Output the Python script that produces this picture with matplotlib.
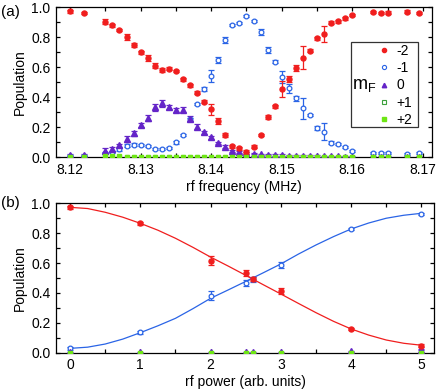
import matplotlib
matplotlib.use('Agg')
import matplotlib.pyplot as plt
import matplotlib.lines as mlines
from matplotlib.patches import Rectangle
from matplotlib.ticker import MultipleLocator

plt.rcParams['font.family'] = ['Liberation Sans', 'DejaVu Sans']
plt.rcParams['mathtext.fontset'] = 'custom'
plt.rcParams['mathtext.rm'] = 'Liberation Sans'

# ---- panel (a): population vs rf frequency ----
freq = [8.120, 8.122, 8.125, 8.126, 8.127, 8.128, 8.129, 8.130, 8.131, 8.132,
        8.133, 8.134, 8.135, 8.136, 8.137, 8.138, 8.139, 8.140, 8.141, 8.142,
        8.143, 8.144, 8.145, 8.146, 8.147, 8.148, 8.149, 8.150, 8.151, 8.152,
        8.153, 8.154, 8.155, 8.156, 8.157, 8.158, 8.159, 8.160,
        8.163, 8.164, 8.165, 8.1678, 8.1694]
pop_m2 = [0.975, 0.964, 0.904, 0.882, 0.847, 0.804, 0.749, 0.700, 0.660, 0.611,
          0.582, 0.591, 0.577, 0.522, 0.482, 0.431, 0.369, 0.320, 0.244, 0.149,
          0.075, 0.060, 0.035, 0.071, 0.147, 0.267, 0.342, 0.453, 0.525, 0.593,
          0.665, 0.711, 0.793, 0.822, 0.897, 0.907, 0.927, 0.947,
          0.967, 0.964, 0.964, 0.971, 0.964]
err_m2 = [0.010, 0.008, 0.015, 0.010, 0.008, 0.020, 0.015, 0.010, 0.020, 0.015,
          0.015, 0.010, 0.008, 0.010, 0.010, 0.012, 0.010, 0.037, 0.020, 0.015,
          0.010, 0.010, 0.012, 0.008, 0.008, 0.012, 0.010, 0.053, 0.020, 0.020,
          0.075, 0.008, 0.012, 0.053, 0.010, 0.010, 0.010, 0.008,
          0.008, 0.008, 0.010, 0.008, 0.008]
pop_m1 = [0.010, 0.012, 0.030, 0.037, 0.053, 0.077, 0.085, 0.080, 0.075, 0.053,
          0.055, 0.062, 0.100, 0.149, 0.253, 0.357, 0.457, 0.542, 0.649, 0.782,
          0.882, 0.897, 0.942, 0.909, 0.837, 0.715, 0.638, 0.533, 0.460, 0.393,
          0.327, 0.282, 0.197, 0.171, 0.097, 0.089, 0.071, 0.044,
          0.027, 0.027, 0.027, 0.022, 0.027]
err_m1 = [0.005, 0.005, 0.008, 0.008, 0.008, 0.010, 0.008, 0.006, 0.006, 0.006,
          0.006, 0.006, 0.012, 0.006, 0.010, 0.006, 0.015, 0.037, 0.020, 0.020,
          0.006, 0.006, 0.006, 0.006, 0.020, 0.020, 0.010, 0.040, 0.030, 0.015,
          0.070, 0.006, 0.012, 0.055, 0.010, 0.008, 0.006, 0.008,
          0.006, 0.006, 0.008, 0.006, 0.006]
pop_0 = [0.015, 0.015, 0.044, 0.055, 0.082, 0.122, 0.160, 0.215, 0.260, 0.333,
         0.360, 0.337, 0.315, 0.318, 0.258, 0.204, 0.167, 0.133, 0.097, 0.071,
         0.044, 0.035, 0.030, 0.025, 0.020, 0.018, 0.015, 0.015, 0.012, 0.010,
         0.010, 0.008, 0.008, 0.007, 0.006, 0.006, 0.005, 0.005,
         0.003, 0.003, 0.003, 0.003, 0.003]
err_0 = [0.008, 0.008, 0.015, 0.012, 0.010, 0.020, 0.015, 0.015, 0.020, 0.025,
         0.025, 0.012, 0.015, 0.015, 0.015, 0.015, 0.010, 0.010, 0.008, 0.008,
         0.008, 0.006, 0.006, 0.006, 0.005, 0.005, 0.005, 0.005, 0.005, 0.005,
         0.005, 0.005, 0.005, 0.005, 0.005, 0.005, 0.005, 0.005,
         0.005, 0.005, 0.005, 0.005, 0.005]
pop_p1 = [0.003] * len(freq)
pop_p2 = [0.004, 0.004, 0.008, 0.008, 0.006, 0.005, 0.004, 0.004, 0.004, 0.004,
          0.004, 0.004, 0.004, 0.004, 0.004, 0.004, 0.004, 0.004, 0.004, 0.004,
          0.004, 0.004, 0.004, 0.004, 0.004, 0.004, 0.004, 0.004, 0.004, 0.004,
          0.004, 0.004, 0.004, 0.004, 0.004, 0.004, 0.004, 0.004,
          0.004, 0.004, 0.004, 0.004, 0.004]

# ---- panel (b): population vs rf power ----
power = [0, 1, 2, 2.5, 2.6, 3, 4, 5]
b_m2 = [0.973, 0.866, 0.616, 0.531, 0.495, 0.413, 0.159, 0.047]
b_m2_err = [0.010, 0.010, 0.030, 0.020, 0.015, 0.020, 0.008, 0.010]
b_m1 = [0.029, 0.136, 0.380, 0.469, 0.491, 0.587, 0.828, 0.928]
b_m1_err = [0.008, 0.008, 0.030, 0.020, 0.015, 0.020, 0.006, 0.008]
b_0 = [0.002, 0.002, 0.002, 0.002, 0.002, 0.002, 0.010, 0.020]
b_0_err = [0.004] * len(power)
b_p1 = [0.001] * len(power)
b_p2 = [0.001] * len(power)

# fitted curves
fit_power = [0, 0.25, 0.5, 0.75, 1, 1.25, 1.5, 1.75, 2, 2.25, 2.5, 2.75,
             3, 3.25, 3.5, 3.75, 4, 4.25, 4.5, 4.75, 5]
fit_m2 = [0.973, 0.965, 0.940, 0.907, 0.866, 0.820, 0.766, 0.705, 0.640, 0.580,
          0.518, 0.455, 0.393, 0.330, 0.268, 0.210, 0.159, 0.118, 0.085, 0.063, 0.050]
fit_m1 = [0.029, 0.037, 0.058, 0.091, 0.134, 0.180, 0.230, 0.295, 0.364, 0.420,
          0.477, 0.535, 0.594, 0.660, 0.721, 0.777, 0.828, 0.868, 0.900, 0.920, 0.933]

c_red = '#f01e1e'
c_blue = '#2a64e6'
c_purple = '#6424c8'
c_green = '#3ca03c'
c_lime = '#6ee614'

W, H = 436, 391
fig = plt.figure(figsize=(W / 100, H / 100), dpi=100)
ax_a = fig.add_axes([56 / W, 1 - 157.3 / H, 376 / W, 150 / H])
ax_b = fig.add_axes([56 / W, 1 - 352.7 / H, 378 / W, 149.4 / H])

eb = dict(capsize=2.3, elinewidth=0.9, capthick=0.9, linestyle='none')

def draw_all(ax, x, m2, e2, m1, e1, z, ez, p1, p2):
    ax.errorbar(x, m1, yerr=e1, marker='o', ms=3.4, mfc='white', mec=c_blue,
                mew=0.9, color=c_blue, zorder=3, **eb)
    ax.errorbar(x, z, yerr=ez, marker='^', ms=3.8, color=c_purple, zorder=3, **eb)
    ax.errorbar(x, m2, yerr=e2, marker='o', ms=3.6, color=c_red, zorder=3, **eb)
    ax.plot(x, p1, 's', ms=3.0, mfc='white', mec=c_green, mew=0.8, ls='none', zorder=4)
    ax.plot(x, p2, 's', ms=3.0, color=c_lime, ls='none', zorder=4)

draw_all(ax_a, freq, pop_m2, err_m2, pop_m1, err_m1, pop_0, err_0, pop_p1, pop_p2)
draw_all(ax_b, power, b_m2, b_m2_err, b_m1, b_m1_err, b_0, b_0_err, b_p1, b_p2)
ax_b.plot(fit_power, fit_m2, color=c_red, lw=0.9, zorder=1)
ax_b.plot(fit_power, fit_m1, color=c_blue, lw=0.9, zorder=1)

ax_a.set_xlim(8.1180, 8.1713)
ax_b.set_xlim(-0.2, 5.18)
for ax in (ax_a, ax_b):
    ax.set_ylim(0, 1.0)
    ax.set_ylabel('Population', fontsize=10, labelpad=3)
    ax.yaxis.set_major_locator(MultipleLocator(0.2))
    ax.yaxis.set_minor_locator(MultipleLocator(0.1))
    ax.tick_params(which='both', direction='in', top=True, right=True,
                   labelsize=10, width=0.9, pad=4)
    ax.tick_params(which='major', length=3.2)
    ax.tick_params(which='minor', length=2.6)
    for s in ax.spines.values():
        s.set_linewidth(0.9)
    ax.yaxis.set_major_formatter(plt.FormatStrFormatter('%.1f'))

ax_a.xaxis.set_major_locator(MultipleLocator(0.01))
ax_a.xaxis.set_minor_locator(MultipleLocator(0.005))
ax_a.xaxis.set_major_formatter(plt.FormatStrFormatter('%.2f'))
ax_b.xaxis.set_major_locator(MultipleLocator(1))
ax_b.xaxis.set_minor_locator(MultipleLocator(0.5))
ax_a.set_xlabel('rf frequency (MHz)', fontsize=10, labelpad=2)
ax_b.set_xlabel('rf power (arb. units)', fontsize=10, labelpad=2)

# legend box with the m_F title on its left side
x0, x1 = (350.7 - 56) / 376, (418 - 56) / 376
y0, y1 = (157.3 - 126.7) / 150, (157.3 - 41.7) / 150
ax_a.add_patch(Rectangle((x0, y0), x1 - x0, y1 - y0, transform=ax_a.transAxes,
                         fill=True, fc='white', ec='#333333', lw=0.9, zorder=5))
labels = ['-2', '-1', '0', '+1', '+2']
proxies = [
    mlines.Line2D([], [], marker='o', ms=3.0, color=c_red, ls='none'),
    mlines.Line2D([], [], marker='o', ms=3.0, mfc='white', mec=c_blue, mew=0.8, ls='none'),
    mlines.Line2D([], [], marker='^', ms=3.2, color=c_purple, ls='none'),
    mlines.Line2D([], [], marker='s', ms=3.0, mfc='white', mec=c_green, mew=0.8, ls='none'),
    mlines.Line2D([], [], marker='s', ms=3.2, color=c_lime, ls='none'),
]
leg = ax_a.legend(proxies, labels, loc='upper left', frameon=False,
                  bbox_to_anchor=((378 - 56) / 376, (157.3 - 44) / 150),
                  fontsize=10, handlelength=0.8, handletextpad=0.5,
                  labelspacing=0.23, borderpad=0.0, borderaxespad=0.0)
leg.set_zorder(6)
ax_a.text((352 - 56) / 376, (157.3 - 85) / 150, r'm$_\mathregular{F}$',
          transform=ax_a.transAxes, fontsize=13, ha='left', va='center', zorder=7)

fig.text(1 / W, 1 - 12 / H, '(a)', fontsize=11, ha='left', va='center')
fig.text(1 / W, 1 - 203 / H, '(b)', fontsize=11, ha='left', va='center')

fig.savefig('out.png', dpi=100)
